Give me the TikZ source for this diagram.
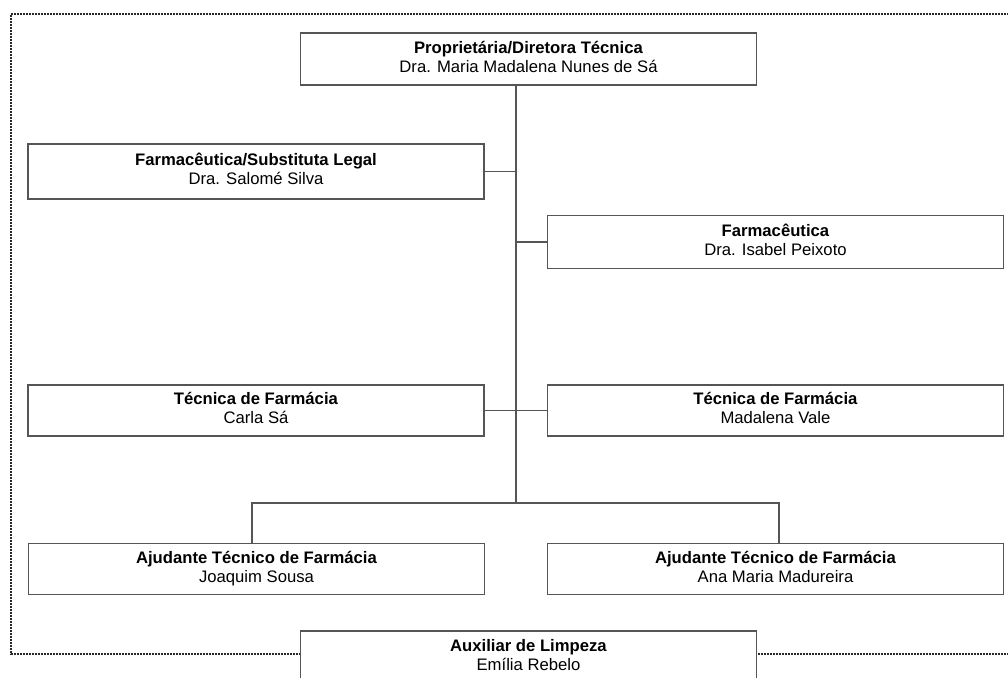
\documentclass[tikz,border=0pt]{standalone}
\usepackage{fontspec}
\setmainfont{Liberation Sans}
\definecolor{linegray}{HTML}{555555}
\definecolor{dotgray}{HTML}{2A2A2A}
\newcommand\orgtext[2]{\textbf{#1}\strut\\#2\strut}
\tikzset{
  orgbox/.style={draw=linegray, line width=1.2pt, fill=white, rectangle, inner sep=0pt,
    align=center, text=black, font=\fontsize{12.5}{14.3}\selectfont, minimum width=342pt},
  conn/.style={draw=linegray, line width=1.2pt},
  border/.style={draw=dotgray, line width=1.6pt, dash pattern=on 1.2pt off 1.05pt}
}
\begin{document}
\begin{tikzpicture}[x=0.75pt,y=-0.75pt]
\useasboundingbox (0,0) rectangle (1008,678);
\clip (0,0) rectangle (1008,678);
\fill[white] (0,0) rectangle (1008,678);
% dotted frame
\draw[border] (1015,14) -- (11,14) -- (11,654) -- (1015,654);
% spine coordinates
\coordinate (sp) at (516,503);
\coordinate (bl) at (252,503);
\coordinate (br) at (779,503);
% boxes
\node[orgbox, minimum height=39pt] (top) at (528.5,59) {\orgtext{Proprietária/Diretora Técnica}{Dra. Maria Madalena Nunes de Sá}};
\node[orgbox, minimum height=41pt] (fs) at (256,171.5) {\orgtext{Farmacêutica/Substituta Legal}{Dra. Salomé Silva}};
\node[orgbox, minimum height=40pt] (fr) at (775.5,242) {\orgtext{Farmacêutica}{Dra. Isabel Peixoto}};
\node[orgbox, minimum height=38pt] (tl) at (256,410.5) {\orgtext{Técnica de Farmácia}{Carla Sá}};
\node[orgbox, minimum height=38pt] (tr) at (775.5,410.5) {\orgtext{Técnica de Farmácia}{Madalena Vale}};
\node[orgbox, minimum height=38pt] (a1) at (256.5,569) {\orgtext{Ajudante Técnico de Farmácia}{Joaquim Sousa}};
\node[orgbox, minimum height=38pt] (a2) at (775.5,569) {\orgtext{Ajudante Técnico de Farmácia}{Ana Maria Madureira}};
% connectors
\draw[conn] (top.south -| sp) -- (sp);
\draw[conn] (fs.east) -- (fs.east -| sp);
\draw[conn] (fr.west) -- (fr.west -| sp);
\draw[conn] (tl.east) -- (tr.west);
\draw[conn] (a1.north -| bl) -- (bl) -- (br) -- (a2.north -| br);
% bottom box (over the frame)
\node[orgbox, minimum height=39pt] (aux) at (528.5,657) {\orgtext{Auxiliar de Limpeza}{Emília Rebelo}};
\end{tikzpicture}
\end{document}
